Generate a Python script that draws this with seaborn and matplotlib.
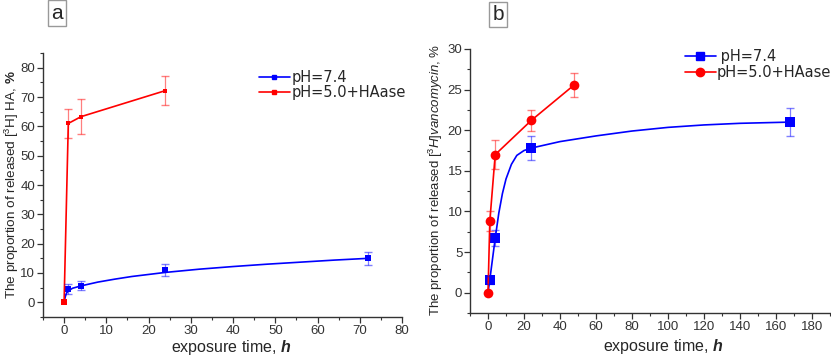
import matplotlib
matplotlib.use("Agg")
import matplotlib.pyplot as plt
from matplotlib.lines import Line2D
from matplotlib.ticker import MultipleLocator
import seaborn as sns

# panel a: [3H] HA release
a_time = [0, 1, 4, 24, 72]
a_ph74 = [0, 4.5, 5.6, 11.0, 15.0]
a_ph74_err = [0, 1.6, 1.5, 2.0, 2.2]
a_ph50_time = [0, 1, 4, 24]
a_ph50 = [0, 61.0, 63.3, 72.2]
a_ph50_err = [0, 5.0, 6.0, 5.0]
# fitted curve for pH 7.4
a_fit_time = [0, 0.3, 0.6, 1, 2, 4, 8, 12, 16, 24, 32, 40, 48, 56, 64, 72]
a_fit_val = [0, 2.0, 3.2, 3.9, 4.8, 5.6, 6.9, 7.9, 8.8, 10.2, 11.3, 12.2, 13.0, 13.7, 14.4, 15.0]

# panel b: [3H]vancomycin release
b_time = [1, 4, 24, 168]
b_ph74 = [1.6, 6.7, 17.8, 21.0]
b_ph74_err = [0.5, 1.0, 1.5, 1.7]
b_ph50_time = [0, 1, 4, 24, 48]
b_ph50 = [0, 8.8, 17.0, 21.2, 25.6]
b_ph50_err = [0, 1.2, 1.8, 1.3, 1.5]
b_fit_time = [0, 1, 2, 4, 6, 8, 10, 13, 16, 20, 24, 30, 40, 60, 80, 100, 120, 140, 168]
b_fit_val = [0, 1.6, 3.3, 6.7, 9.8, 12.2, 14.0, 15.8, 16.9, 17.5, 17.8, 18.1, 18.6, 19.3, 19.9, 20.35, 20.65, 20.85, 21.0]

labels = ["pH=7.4", "pH=5.0+HAase"]
BLUE, RED = "#0000ff", "#ff0000"

sns.set_style("ticks")
plt.rcParams["font.family"] = ["Liberation Sans", "DejaVu Sans"]
plt.rcParams["mathtext.fontset"] = "custom"
plt.rcParams["mathtext.rm"] = "Liberation Sans"
plt.rcParams["mathtext.it"] = "Liberation Sans:italic"
plt.rcParams["mathtext.bf"] = "Liberation Sans:bold"
plt.rcParams["mathtext.bfit"] = "Liberation Sans:italic:bold"

fig = plt.figure(figsize=(8.31, 3.56), dpi=100)
ax1 = fig.add_axes([0.0517, 0.1096, 0.4321, 0.7414])
ax2 = fig.add_axes([0.5656, 0.1208, 0.4332, 0.7416])


def style_axis(ax):
    sns.despine(ax=ax)
    for s in ["left", "bottom"]:
        ax.spines[s].set_color("#333333")
        ax.spines[s].set_linewidth(1.0)
    ax.tick_params(which="major", direction="out", length=4, width=0.9,
                   labelsize=9.5, colors="#333333", pad=1.5)
    ax.tick_params(which="minor", direction="out", length=2.5, width=0.8,
                   colors="#333333")


# ---- panel a ----
sns.lineplot(x=a_fit_time, y=a_fit_val, ax=ax1, color=BLUE, lw=1.2, legend=False)
sns.lineplot(x=a_ph50_time, y=a_ph50, ax=ax1, color=RED, lw=1.2, marker="s",
             markersize=3.5, markeredgewidth=0, legend=False)
sns.scatterplot(x=a_time, y=a_ph74, ax=ax1, color=BLUE, marker="s", s=14,
                linewidth=0, legend=False)
ax1.errorbar(a_time[1:], a_ph74[1:], yerr=a_ph74_err[1:], fmt="none",
             ecolor=BLUE, alpha=0.5, capsize=3, elinewidth=0.9)
ax1.errorbar(a_ph50_time[1:], a_ph50[1:], yerr=a_ph50_err[1:], fmt="none",
             ecolor=RED, alpha=0.5, capsize=3, elinewidth=0.9)
ax1.scatter([0], [0], color=RED, marker="s", s=14, linewidths=0, zorder=5)

ax1.set_xlim(-5, 80)
ax1.xaxis.set_major_locator(MultipleLocator(10))
ax1.xaxis.set_minor_locator(MultipleLocator(5))
ax1.yaxis.set_major_locator(MultipleLocator(10))
ax1.yaxis.set_minor_locator(MultipleLocator(5))
style_axis(ax1)
ax1.set_ylim(-5, 85)
ax1.set_xlabel(r"exposure time, $\mathbfit{h}$", fontsize=11.5)
ax1.xaxis.set_label_coords(0.524, -0.078)
ax1.set_ylabel(r"The proportion of released [$^{3}$H] HA, $\mathbf{\%}$",
               fontsize=9.7)
ax1.yaxis.set_label_coords(-0.061, 0.5)

hand_a = [Line2D([], [], color=BLUE, marker="s", markersize=3, lw=1.2),
          Line2D([], [], color=RED, marker="s", markersize=3, lw=1.2)]
ax1.legend(hand_a, labels, loc="upper left", bbox_to_anchor=(0.602, 0.937),
           frameon=False, handlelength=2.1, handletextpad=0.1,
           labelspacing=0.05, borderaxespad=0, borderpad=0,
           prop={"family": "DejaVu Sans", "size": 10.5})

fig.text(0.0685, 0.99, "a", fontsize=15, ha="center", va="top",
         bbox=dict(boxstyle="square,pad=0.15", fc="white", ec="#999999", lw=1))

# ---- panel b ----
sns.lineplot(x=b_fit_time, y=b_fit_val, ax=ax2, color=BLUE, lw=1.2, legend=False)
sns.lineplot(x=b_ph50_time, y=b_ph50, ax=ax2, color=RED, lw=1.2, marker="o",
             markersize=7, markeredgewidth=0, legend=False)
sns.scatterplot(x=b_time, y=b_ph74, ax=ax2, color=BLUE, marker="s", s=42,
                linewidth=0, legend=False)
ax2.errorbar(b_time, b_ph74, yerr=b_ph74_err, fmt="none",
             ecolor=BLUE, alpha=0.5, capsize=3, elinewidth=0.9)
ax2.errorbar(b_ph50_time[1:], b_ph50[1:], yerr=b_ph50_err[1:], fmt="none",
             ecolor=RED, alpha=0.5, capsize=3, elinewidth=0.9)

ax2.set_xlim(-10, 190)
ax2.xaxis.set_major_locator(MultipleLocator(20))
ax2.xaxis.set_minor_locator(MultipleLocator(10))
ax2.yaxis.set_major_locator(MultipleLocator(5))
ax2.yaxis.set_minor_locator(MultipleLocator(2.5))
style_axis(ax2)
ax2.set_ylim(-2.5, 30)
ax2.set_xlabel(r"exposure time, $\mathbfit{h}$", fontsize=11.5)
ax2.xaxis.set_label_coords(0.538, -0.092)
ax2.set_ylabel(r"The proportion of released [$^{3}\mathit{H}]\mathit{vancomycin}$, %",
               fontsize=9.5)
ax2.yaxis.set_label_coords(-0.07, 0.504)

hand_b = [Line2D([], [], color=BLUE, marker="s", markersize=6, lw=1.2),
          Line2D([], [], color=RED, marker="o", markersize=6, lw=1.2)]
ax2.legend(hand_b, [" " + labels[0], labels[1]], loc="upper left",
           bbox_to_anchor=(0.597, 1.0), frameon=False, handlelength=2.1,
           handletextpad=0.05, labelspacing=0.05, borderaxespad=0, borderpad=0,
           prop={"family": "DejaVu Sans", "size": 10.5})

fig.text(0.5995, 0.985, "b", fontsize=15, ha="center", va="top",
         bbox=dict(boxstyle="square,pad=0.15", fc="white", ec="#999999", lw=1))

fig.savefig("out.png", dpi=100)
